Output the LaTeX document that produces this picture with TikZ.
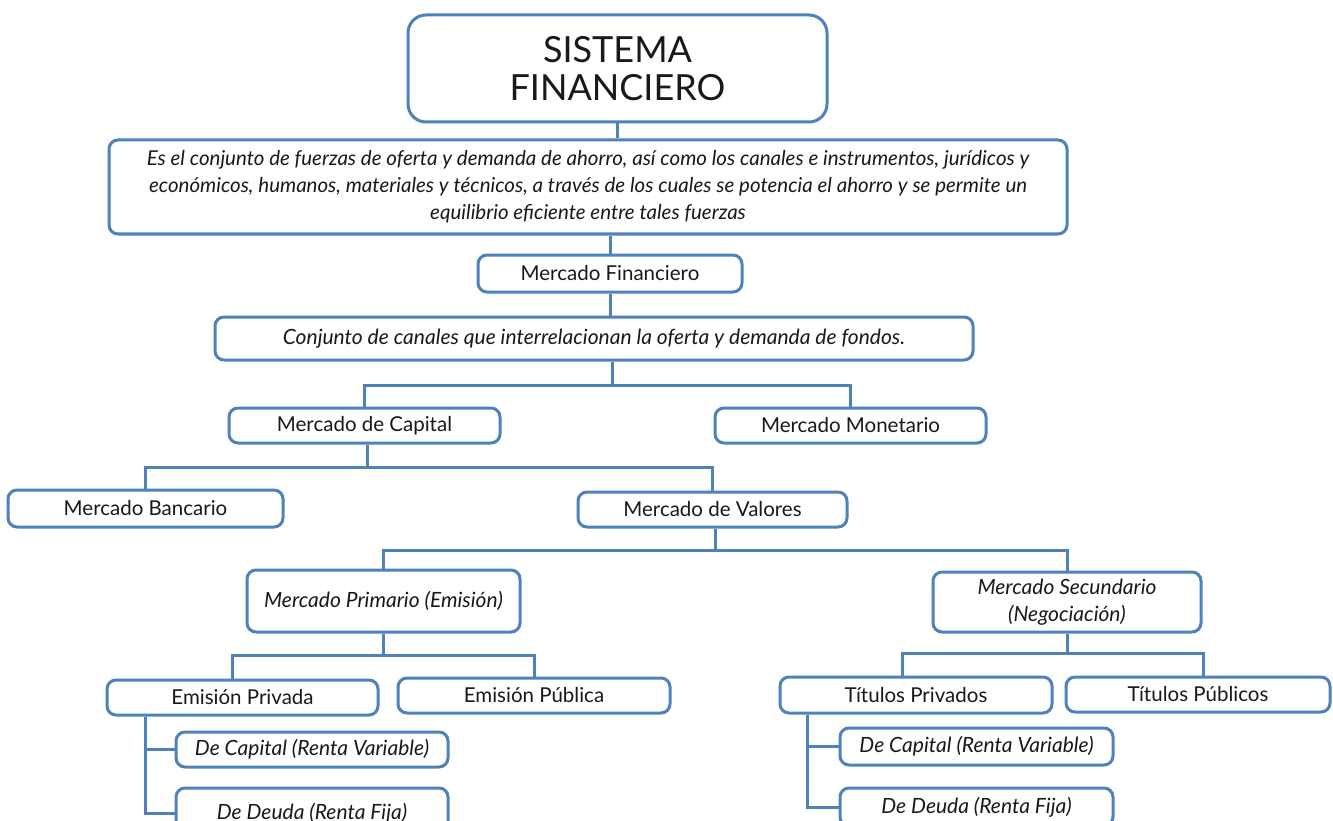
\documentclass[tikz,border=0pt]{standalone}
\usepackage{fontspec}
\setmainfont{Lato}
\definecolor{lineblue}{RGB}{79,129,189}

\begin{document}
\begin{tikzpicture}[x=1pt, y=-1pt,
    box/.style={draw=lineblue, line width=3pt, rounded corners=9pt, fill=white, inner sep=0pt, align=center, text=black!90, font=\fontsize{20.5}{27}\selectfont},
    ibox/.style={box, font=\fontsize{21}{27}\selectfont\itshape},
    link/.style={draw=lineblue, line width=3pt}]

    \fill[white] (0,0) rectangle (1333,821);
    \useasboundingbox (0,0) rectangle (1333,821);
    \clip (0,0) rectangle (1333,821);

    % top
    \node [box, rounded corners=18pt, minimum width=419pt, minimum height=107pt, font=\fontsize{36}{38}\selectfont] (sistema) at (617.5,68.5) {SISTEMA\\FINANCIERO};
    \node [ibox, minimum width=958pt, minimum height=94pt, font=\fontsize{20.5}{27}\selectfont\itshape] (def) at (588,187) {Es el conjunto de fuerzas de oferta y demanda de ahorro, así como los canales e instrumentos, jurídicos y\\económicos, humanos, materiales y técnicos, a través de los cuales se potencia el ahorro y se permite un\\equilibrio eficiente entre tales fuerzas};
    \node [box, minimum width=264pt, minimum height=37pt] (financiero) at (610,273.5) {Mercado Financiero};
    \node [ibox, minimum width=758pt, minimum height=43pt] (canales) at (594,338.5) {Conjunto de canales que interrelacionan la oferta y demanda de fondos.};

    % capital / monetario
    \node [box, minimum width=271pt, minimum height=35pt] (capital) at (364.5,425.5) {Mercado de Capital};
    \node [box, minimum width=271pt, minimum height=35pt] (monetario) at (850.5,425.5) {Mercado Monetario};
    \node [box, minimum width=275pt, minimum height=37pt] (bancario) at (145.5,508.5) {Mercado Bancario};
    \node [box, minimum width=269pt, minimum height=35pt] (valores) at (712.5,509.5) {Mercado de Valores};

    % primario / secundario
    \node [ibox, minimum width=273pt, minimum height=62pt] (primario) at (383.5,601) {Mercado Primario (Emisión)};
    \node [ibox, minimum width=268pt, minimum height=60pt] (secundario) at (1067,602) {Mercado Secundario\\(Negociación)};

    \node [box, minimum width=271pt, minimum height=35pt] (eprivada) at (242.5,697.5) {Emisión Privada};
    \node [box, minimum width=272pt, minimum height=35pt] (epublica) at (534,695.5) {Emisión Pública};
    \node [ibox, minimum width=272pt, minimum height=35pt] (ecapital) at (312,749.5) {De Capital (Renta Variable)};
    \node [ibox, minimum width=272pt, minimum height=50pt] (edeuda) at (312,813) {De Deuda (Renta Fija)};

    \node [box, minimum width=272pt, minimum height=36pt] (tprivados) at (916,695) {Títulos Privados};
    \node [box, minimum width=264pt, minimum height=35pt] (tpublicos) at (1198,694.5) {Títulos Públicos};
    \node [ibox, minimum width=273pt, minimum height=37pt] (tcapital) at (976.5,746.5) {De Capital (Renta Variable)};
    \node [ibox, minimum width=273pt, minimum height=38pt] (tdeuda) at (976.5,807) {De Deuda (Renta Fija)};

    % branch points
    \coordinate (b1) at (612,385);
    \coordinate (b2) at (367,467);
    \coordinate (b3) at (715,550);
    \coordinate (b4) at (383.5,655);
    \coordinate (b5) at (1067,653);

    \draw [link] (sistema.south) -- (sistema.south |- def.north);
    \draw [link] (def.south -| financiero) -- (financiero.north);
    \draw [link] (financiero.south) -- (financiero.south |- canales.north);

    \draw [link] (b1 |- canales.south) -- (b1);
    \draw [link] (capital.north) |- (b1) -| (monetario.north);

    \draw [link] (b2 |- capital.south) -- (b2);
    \draw [link] (bancario.north) |- (b2) -| (valores.north);

    \draw [link] (b3 |- valores.south) -- (b3);
    \draw [link] (primario.north) |- (b3) -| (secundario.north);

    \draw [link] (primario.south) -- (b4);
    \draw [link] ([xshift=-10pt]eprivada.north) |- (b4) -| (epublica.north);
    \draw [link] ([xshift=-97.5pt]eprivada.south) |- (ecapital.west);
    \draw [link] ([xshift=-97.5pt]eprivada.south) |- (edeuda.west);

    \draw [link] (secundario.south) -- (b5);
    \draw [link] ([xshift=-14pt]tprivados.north) |- (b5) -| ([xshift=5pt]tpublicos.north);
    \draw [link] ([xshift=-109pt]tprivados.south) |- (tcapital.west);
    \draw [link] ([xshift=-109pt]tprivados.south) |- (tdeuda.west);

\end{tikzpicture}
\end{document}
